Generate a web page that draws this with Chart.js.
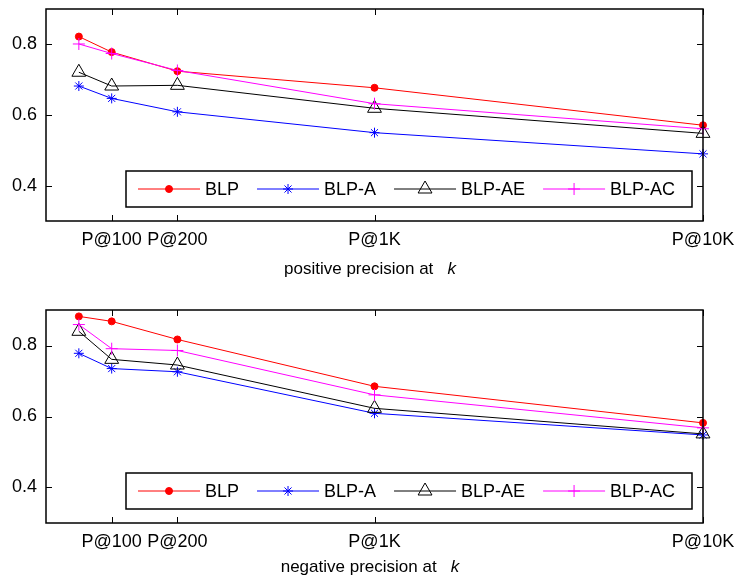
<!DOCTYPE html>
<html>
<head>
<meta charset="utf-8">
<script src="https://cdn.jsdelivr.net/npm/chart.js@4.4.1/dist/chart.umd.min.js"></script>
<style>
  body { margin: 0; background: #fff; }
  #wrap { position: relative; width: 740px; height: 580px; font-family: 'Liberation Sans', Arial, sans-serif; }
  canvas { position: absolute; left: 0; }
  .xt { position: absolute; left: 0; width: 740px; text-align: center; font-size: 17px; color: #000; }
</style>
</head>
<body>
<div id="wrap">
  <canvas id="top" width="740" height="290" style="top:0"></canvas>
  <canvas id="bottom" width="740" height="290" style="top:290px"></canvas>
  <div class="xt" style="top:259px">positive precision at&nbsp;&nbsp;&nbsp;<i>k</i></div>
  <div class="xt" style="top:557px">negative precision at&nbsp;&nbsp;&nbsp;<i>k</i></div>
</div>
<script>
// x positions of the five k values, and which of them carry a label
const xPos = [1, 2, 4, 10, 20];
const xTickPos = [2, 4, 10, 20];
const xTickLabels = ['P@100', 'P@200', 'P@1K', 'P@10K'];
const yTickPos = [0.4, 0.6, 0.8];

const seriesNames = ['BLP', 'BLP-A', 'BLP-AE', 'BLP-AC'];

// positive precision at k
const posBLP   = [0.822, 0.778, 0.724, 0.677, 0.571];
const posBLPA  = [0.682, 0.647, 0.609, 0.550, 0.490];
const posBLPAE = [0.721, 0.682, 0.684, 0.619, 0.548];
const posBLPAC = [0.801, 0.774, 0.726, 0.632, 0.561];

// negative precision at k
const negBLP   = [0.882, 0.868, 0.817, 0.685, 0.582];
const negBLPA  = [0.778, 0.735, 0.726, 0.609, 0.548];
const negBLPAE = [0.840, 0.761, 0.745, 0.623, 0.551];
const negBLPAC = [0.859, 0.791, 0.786, 0.661, 0.568];

const FONT = "'Liberation Sans', Arial, sans-serif";

const styles = [
  { color: '#ff0000', pointStyle: 'circle',   radius: 3.5, fill: '#ff0000' },
  { color: '#0000ff', pointStyle: 'star',     radius: 5,   fill: 'rgba(0,0,0,0)' },
  { color: '#000000', pointStyle: 'triangle', radius: 8,   fill: 'rgba(0,0,0,0)' },
  { color: '#ff00ff', pointStyle: 'cross',    radius: 6,   fill: 'rgba(0,0,0,0)' }
];

// box round the axes, with MATLAB style inward ticks on all four sides
const framePlugin = {
  id: 'frame',
  afterDatasetsDraw(chart) {
    const { ctx, chartArea: a, scales: { x, y } } = chart;
    ctx.save();
    ctx.strokeStyle = '#000';
    ctx.lineWidth = 1.5;
    ctx.strokeRect(a.left, a.top, a.right - a.left, a.bottom - a.top);
    ctx.lineWidth = 1;
    ctx.beginPath();
    xTickPos.forEach(v => {
      const px = Math.round(x.getPixelForValue(v)) + 0.5;
      ctx.moveTo(px, a.top); ctx.lineTo(px, a.top + 6);
      ctx.moveTo(px, a.bottom); ctx.lineTo(px, a.bottom - 6);
    });
    yTickPos.forEach(v => {
      const py = Math.round(y.getPixelForValue(v)) + 0.5;
      ctx.moveTo(a.left, py); ctx.lineTo(a.left + 6, py);
      ctx.moveTo(a.right, py); ctx.lineTo(a.right - 6, py);
    });
    ctx.stroke();
    ctx.restore();
  }
};

function drawMarker(ctx, ds, px, py) {
  ctx.save();
  ctx.lineWidth = 1;
  ctx.fillStyle = ds.pointBackgroundColor;
  ctx.strokeStyle = ds.borderColor;
  Chart.helpers.drawPoint(ctx, {
    pointStyle: ds.pointStyle, radius: ds.pointRadius, rotation: 0, borderWidth: 1
  }, px, py);
  ctx.restore();
}

// horizontal legend box inside the axes, line + marker + name
const legendPlugin = {
  id: 'boxLegend',
  afterDraw(chart) {
    const { ctx, chartArea: a } = chart;
    const left = a.left + 80, right = a.right - 11;
    const top = a.bottom - 50, bottom = a.bottom - 14;
    const cy = (top + bottom) / 2;
    ctx.save();
    ctx.fillStyle = '#fff';
    ctx.fillRect(left, top, right - left, bottom - top);
    ctx.strokeStyle = '#000';
    ctx.lineWidth = 1.5;
    ctx.strokeRect(left, top, right - left, bottom - top);
    ctx.font = '18px ' + FONT;
    ctx.textBaseline = 'middle';
    let x = left + 12;
    chart.data.datasets.forEach(ds => {
      ctx.strokeStyle = ds.borderColor;
      ctx.lineWidth = 1;
      ctx.beginPath();
      ctx.moveTo(x, cy); ctx.lineTo(x + 62, cy);
      ctx.stroke();
      drawMarker(ctx, ds, x + 31, cy);
      ctx.fillStyle = '#000';
      ctx.fillText(ds.label, x + 67, cy + 1);
      x += 67 + ctx.measureText(ds.label).width + 18;
    });
    ctx.restore();
  }
};

function makeChart(id, series, padTop, padBottom) {
  const datasets = series.map((vals, i) => ({
    label: seriesNames[i],
    data: vals.map((v, j) => ({ x: xPos[j], y: v })),
    borderColor: styles[i].color,
    backgroundColor: styles[i].fill,
    pointBackgroundColor: styles[i].fill,
    pointBorderColor: styles[i].color,
    pointStyle: styles[i].pointStyle,
    pointRadius: styles[i].radius,
    pointBorderWidth: 1,
    borderWidth: 1,
    tension: 0,
    clip: false,
    order: 4 - i
  }));
  return new Chart(document.getElementById(id).getContext('2d'), {
    type: 'line',
    data: { datasets },
    options: {
      responsive: false,
      animation: false,
      events: [],
      layout: { padding: { left: 0, right: 37, top: padTop, bottom: padBottom } },
      plugins: { legend: { display: false }, tooltip: { enabled: false } },
      scales: {
        x: {
          type: 'linear', min: 0, max: 20,
          grid: { display: false, drawTicks: false },
          border: { display: false },
          afterBuildTicks: s => { s.ticks = xTickPos.map(v => ({ value: v })); },
          afterFit: s => { s.height = 40; s.paddingLeft = 0; s.paddingRight = 0; },
          ticks: {
            autoSkip: false, maxRotation: 0, padding: 8, color: '#000',
            font: { family: FONT, size: 18 },
            callback: v => xTickLabels[xTickPos.indexOf(v)]
          }
        },
        y: {
          min: 0.3, max: 0.9,
          grid: { display: false, drawTicks: false },
          border: { display: false },
          afterBuildTicks: s => { s.ticks = yTickPos.map(v => ({ value: v })); },
          afterFit: s => { s.width = 46; s.paddingTop = 0; s.paddingBottom = 0; },
          ticks: {
            padding: 9, color: '#000',
            font: { family: FONT, size: 18 },
            callback: v => v.toFixed(1)
          }
        }
      }
    },
    plugins: [framePlugin, legendPlugin]
  });
}

makeChart('top', [posBLP, posBLPA, posBLPAE, posBLPAC], 9, 29);
makeChart('bottom', [negBLP, negBLPA, negBLPAE, negBLPAC], 20, 17);
</script>
</body>
</html>
